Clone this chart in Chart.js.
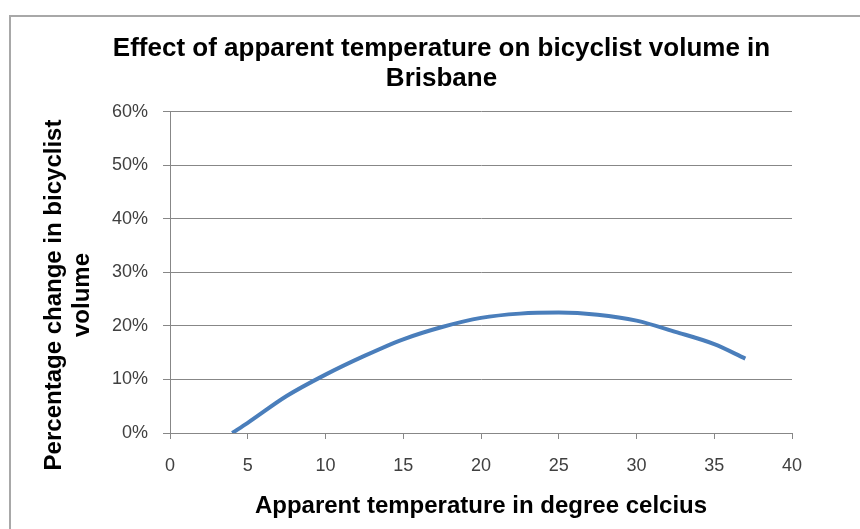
<!DOCTYPE html>
<html lang="en">
<head>
    <meta charset="UTF-8">
    <title>Apparent temperature and bicyclist volume</title>
    <script src="https://cdn.jsdelivr.net/npm/chart.js@4.4.0/dist/chart.umd.min.js"></script>
    <style>
        html, body { margin: 0; padding: 0; background: #fff; overflow: hidden; }
        #frame {
            position: absolute; left: 9px; top: 15px; width: 900px; height: 560px;
            border-left: 2px solid #a8a8a8; border-top: 2px solid #a8a8a8;
        }
        #box { position: absolute; left: 0; top: 0; width: 884px; height: 529px; }
    </style>
</head>
<body>
    <div id="frame"></div>
    <div id="box"><canvas id="grafica"></canvas></div>
    <script>
        // datos
        const temps = [4, 5, 7.5, 10, 12.5, 15, 17.5, 20, 22.5, 25, 27.5, 30, 32.5, 35, 37];
        const change = [0, 1.9, 6.9, 10.9, 14.4, 17.5, 19.8, 21.5, 22.3, 22.5, 22.1, 21.0, 18.9, 16.6, 13.9];
        const titleLines = ['Effect of apparent temperature on bicyclist volume in', 'Brisbane'];
        const yTitle = ['Percentage change in bicyclist', 'volume'];
        const xTitle = 'Apparent temperature in degree celcius';

        const font = 'Liberation Sans, Arial, sans-serif';
        const gridColor = '#878787';

        // titulo del eje y en dos lineas, centrado como en el original
        const yTitlePlugin = {
            id: 'yTitle',
            afterDraw(chart) {
                const c = chart.ctx;
                c.save();
                c.translate(54, 295);
                c.rotate(-Math.PI / 2);
                c.font = 'bold 24px ' + font;
                c.fillStyle = '#000';
                c.textAlign = 'center';
                c.textBaseline = 'middle';
                c.fillText(yTitle[0], 0, 0);
                c.fillText(yTitle[1], 0, 28);
                c.restore();
            }
        };

        const points = temps.map((t, i) => ({ x: t, y: change[i] }));

        var ctx = document.getElementById('grafica').getContext('2d');
        var myChart = new Chart(ctx, {
            type: 'line',
            data: {
                datasets: [{
                    label: 'Change',
                    data: points,
                    borderColor: '#4a7ebb',
                    borderWidth: 4,
                    pointRadius: 0,
                    cubicInterpolationMode: 'monotone',
                    fill: false
                }]
            },
            options: {
                responsive: true,
                maintainAspectRatio: false,
                animation: false,
                // margenes para que el titulo quede centrado como en el original
                layout: { padding: { left: 91, right: 92, top: 0, bottom: 0 } },
                plugins: {
                    legend: { display: false },
                    tooltip: { enabled: false },
                    title: {
                        display: true,
                        text: titleLines,
                        color: '#000',
                        font: { family: font, size: 26, weight: 'bold', lineHeight: 1.15 },
                        padding: { top: 34, bottom: 18 }
                    }
                },
                scales: {
                    x: {
                        type: 'linear',
                        min: 0,
                        max: 40,
                        afterFit: s => { s.height = 96; },
                        ticks: {
                            stepSize: 5,
                            color: '#404040',
                            padding: 16,
                            maxRotation: 0,
                            font: { family: font, size: 18 }
                        },
                        grid: { drawOnChartArea: false, drawTicks: true, tickLength: 6, color: gridColor },
                        border: { display: true, color: gridColor, width: 1 },
                        title: {
                            display: true,
                            text: xTitle,
                            color: '#000',
                            font: { family: font, size: 24, weight: 'bold' },
                            padding: { top: 0, bottom: 8 }
                        }
                    },
                    y: {
                        min: 0,
                        max: 60,
                        afterFit: s => { s.width = 79; },
                        ticks: {
                            stepSize: 10,
                            color: '#404040',
                            padding: 15,
                            font: { family: font, size: 18 },
                            callback: v => v + '%'
                        },
                        grid: { color: gridColor, tickLength: 7, lineWidth: 1 },
                        border: { display: true, color: gridColor, width: 1 }
                    }
                }
            },
            plugins: [yTitlePlugin]
        });
    </script>
</body>
</html>
